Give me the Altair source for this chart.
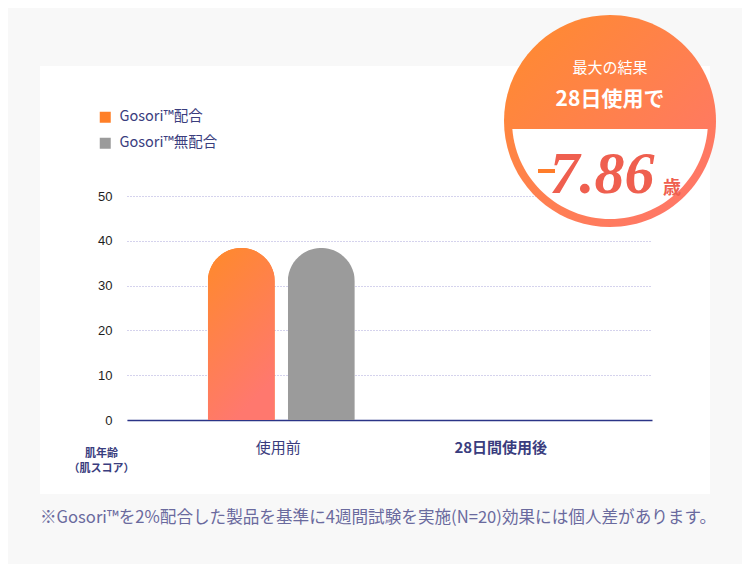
import altair as alt
import pandas as pd

# ---- data ----
categories = ["使用前", "28日間使用後"]
series = ["Gosori™配合", "Gosori™無配合"]
before_values = [38.4, 38.4]
y_ticks = [0, 10, 20, 30, 40, 50]
series_colors = ["#ff7f27", "#9b9b9b"]

badge_line1 = "最大の結果"
badge_line2 = "28日使用で"
badge_value = "7.86"
badge_unit = "歳"
y_title = ["肌年齢", "（肌スコア）"]
footnote = "※Gosori™を2%配合した製品を基準に4週間試験を実施(N=20)効果には個人差があります。"

df = pd.DataFrame({
    "category": [categories[0]] * len(series),
    "series": series,
    "value": before_values,
})

NAVY = "#3a3d7e"
JP = "Noto Sans CJK JP"
BG = "#f8f8f8"

W, H = 525, 224
PL, PT = 119, 188
PR = 734 - PL - W
PB = 556 - PT - H

one = pd.DataFrame({"k": [0]})


def box(x, x2, y, y2, color):
    return alt.Chart(one).mark_rect(color=color, strokeWidth=0).encode(
        x=alt.value(x), x2=alt.value(x2), y=alt.value(y), y2=alt.value(y2))


def txt(s, x, y, size, color, weight="normal", font=JP, align="center",
        baseline="middle", style="normal"):
    return alt.Chart(one).mark_text(
        text=s, fontSize=size, color=color, fontWeight=weight, font=font,
        align=align, baseline=baseline, fontStyle=style
    ).encode(x=alt.value(x), y=alt.value(y))


x_enc = alt.X(
    "category:N",
    scale=alt.Scale(domain=categories, paddingInner=0, paddingOuter=0.18),
    axis=alt.Axis(
        title=None, labelAngle=0, ticks=False, tickSize=0,
        domainColor="#2b3487", domainWidth=1.5, labelPadding=20,
        labelFontSize=15, labelColor=NAVY, labelFont=JP, grid=False,
        labelFontWeight={"condition": {"test": "datum.value == '28日間使用後'", "value": 600},
                         "value": "normal"},
    ),
)
xoff_enc = alt.XOffset(
    "series:N",
    scale=alt.Scale(domain=series, paddingInner=0.1625, paddingOuter=0.4716, align=0.54),
)
y_enc = alt.Y(
    "value:Q",
    scale=alt.Scale(domain=[0, 50], nice=False),
    axis=alt.Axis(
        values=y_ticks, title=y_title, titleAngle=0, titleX=-26, titleY=251,
        titleAlign="center", titleBaseline="top", titleFontSize=11,
        titleFontWeight="bold", titleColor=NAVY, titleFont=JP, titleLineHeight=15,
        labelFontSize=13, labelColor="#1e1e1e", labelFont="Liberation Sans",
        labelPadding=15, ticks=False, tickSize=0, domain=False, grid=True,
        gridColor="#aba7db", gridDash=[1, 2], gridWidth=1,
    ),
)

bars = alt.Chart(df).mark_bar(
    cornerRadiusTopLeft=33.5, cornerRadiusTopRight=33.5
).encode(
    x=x_enc, xOffset=xoff_enc, y=y_enc,
    color=alt.Color(
        "series:N",
        scale=alt.Scale(domain=series, range=series_colors),
        legend=alt.Legend(
            title=None, orient="none", legendX=-29, legendY=-86,
            symbolType="square", symbolSize=121, symbolStrokeWidth=0,
            labelFont=JP, labelFontSize=14.5, labelColor=NAVY,
            rowPadding=11, labelOffset=7,
        ),
    ),
)

bar_grad = alt.LinearGradient(
    gradient="linear", x1=0, y1=0, x2=0.4, y2=1,
    stops=[alt.GradientStop(offset=0, color="#ff8a2a"),
           alt.GradientStop(offset=1, color="#ff786e")],
)
grad_bars = alt.Chart(df).transform_filter(
    alt.datum.series == series[0]
).mark_bar(
    color=bar_grad, cornerRadiusTopLeft=33.5, cornerRadiusTopRight=33.5
).encode(x=x_enc, xOffset=xoff_enc, y=y_enc)

# ---- badge ----
CX, CY = 483, -75
circle_path = "M 1 0 A 1 1 0 1 1 -1 0 A 1 1 0 1 1 1 0 Z"
seg_path = "M -0.92145 0.07547 L 0.92145 0.07547 A 0.92453 0.92453 0 0 1 -0.92145 0.07547 Z"
badge_grad = alt.LinearGradient(
    gradient="linear", x1=0, y1=0, x2=1, y2=1,
    stops=[alt.GradientStop(offset=0, color="#ff8c2c"),
           alt.GradientStop(offset=1, color="#ff7470")],
)
badge_circle = alt.Chart(one).mark_point(
    shape=circle_path, size=212 * 212, filled=True, fill=badge_grad,
    opacity=1, strokeWidth=0
).encode(x=alt.value(CX), y=alt.value(CY))
badge_white = alt.Chart(one).mark_point(
    shape=seg_path, size=212 * 212, filled=True, fill="white",
    opacity=1, strokeWidth=0
).encode(x=alt.value(CX), y=alt.value(CY))

dash = alt.Chart(one).mark_rule(color="#ff7d2a", strokeWidth=4).encode(
    x=alt.value(411), x2=alt.value(428), y=alt.value(-25))

layers = [
    box(-PL, W + PR, -PT, -130, BG),
    box(-PL, W + PR, 298, H + PB, BG),
    box(-PL, -87, -130, 298, BG),
    box(583, W + PR, -130, 298, BG),
    bars,
    grad_bars,
    badge_circle,
    badge_white,
    txt(badge_line1, 483, -128, 15, "white"),
    txt(badge_line2, 483, -96, 21, "white", weight="bold"),
    txt(badge_value, 475, -3, 60, "#ef5f4f", weight="bold", font="Liberation Serif",
        baseline="alphabetic", style="italic"),
    dash,
    txt(badge_unit, 545, -7, 18, "#ef5f4f", weight="bold"),
    txt(footnote, -87, 322, 16.6, "#6a6a9e", align="left"),
]

chart = alt.layer(*layers).properties(
    width=W, height=H,
    padding={"left": PL, "top": PT, "right": PR, "bottom": PB},
    autosize=alt.AutoSizeParams(type="none"),
    background="white",
).configure_view(strokeWidth=0)

chart.save("out.html", embed_options={"renderer": "svg", "actions": False})
